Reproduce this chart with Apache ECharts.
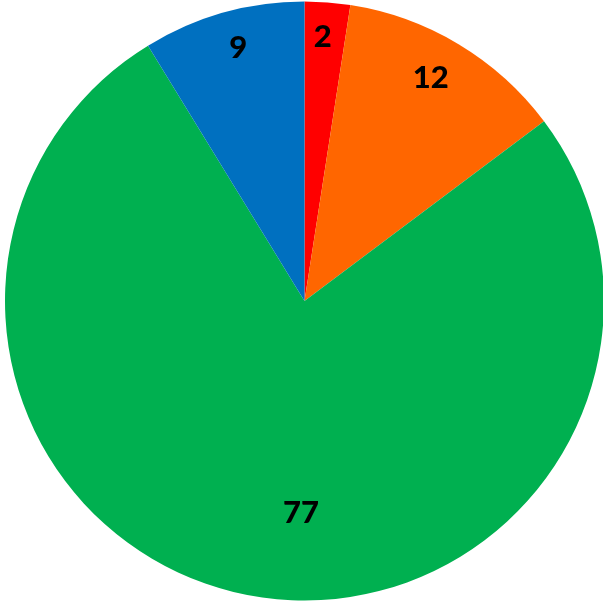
<!DOCTYPE html>
<html>
<head>
<meta charset="utf-8">
<script src="https://cdn.jsdelivr.net/npm/echarts@6/dist/echarts.min.js"></script>
<style>html,body{margin:0;padding:0;background:#fff;}#c{width:603px;height:605px;}</style>
</head>
<body>
<div id="c"></div>
<script>
const categories = ['A', 'B', 'C', 'D'];
const values = [2.45, 12.3, 76.5, 8.75];
const colors = ['#FF0000', '#FF6600', '#00B050', '#0070C0'];

const cx = 304.5, cy = 301, R = 299.5;
const labelShift = [[-2, -2], [-9, 2], [25, 62], [5, 0]];
const chart = echarts.init(document.getElementById('c'), null, {renderer: 'canvas'});
chart.setOption({
  animation: false,
  series: [{
    type: 'pie',
    center: [cx, cy],
    radius: [0, R],
    startAngle: 90,
    clockwise: true,
    avoidLabelOverlap: false,
    data: categories.map((n, i) => ({name: n, value: values[i], itemStyle: {color: colors[i]}})),
    label: {
      show: true,
      position: 'inside',
      formatter: p => String(Math.round(p.value)),
      fontFamily: 'Lato',
      fontWeight: 900,
      fontSize: 31,
      color: '#000'
    },
    labelLine: {show: false},
    labelLayout: function (p) {
      const r = p.labelRect;
      const lx = r.x + r.width / 2, ly = r.y + r.height / 2;
      const s = labelShift[p.dataIndex];
      if (p.dataIndex === 2) {
        return {dx: s[0], dy: s[1]};
      }
      const f = 0.72;
      return {dx: (lx - cx) * f + s[0], dy: (ly - cy) * f + s[1]};
    }
  }]
});
</script>
</body>
</html>
